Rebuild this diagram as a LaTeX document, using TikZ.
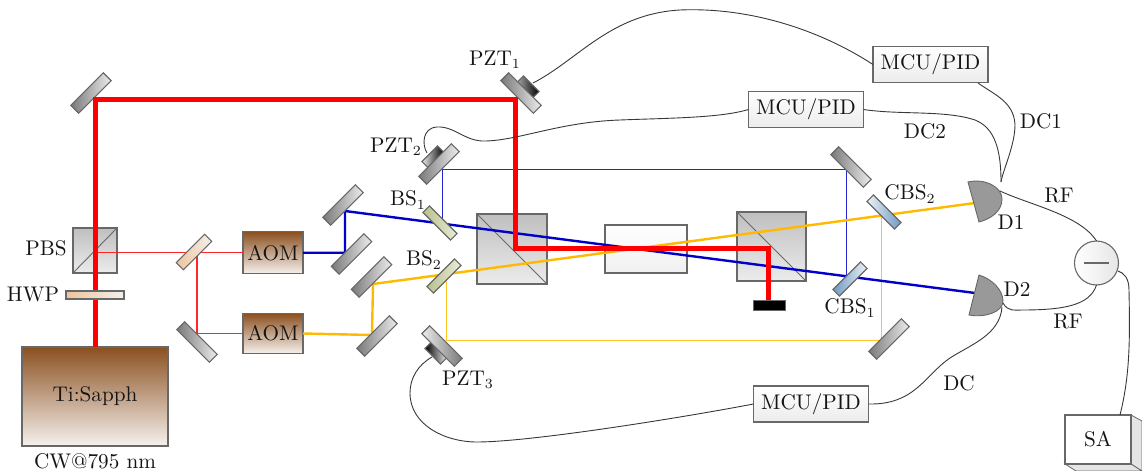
\documentclass[tikz,border=0pt]{standalone}
\usetikzlibrary{calc}
\definecolor{brownT}{HTML}{8B5020}
\definecolor{txt}{HTML}{151515}
\definecolor{edge}{HTML}{686868}
\definecolor{bluebeam}{HTML}{0000C8}
\definecolor{yellowbeam}{HTML}{FFB900}
\definecolor{tanL}{HTML}{F0C49C}
\definecolor{tanR}{HTML}{F2F0EC}
\definecolor{oliveL}{HTML}{B8C08E}
\definecolor{oliveR}{HTML}{E8EBD8}
\definecolor{cbsL}{HTML}{EDF1F5}
\definecolor{cbsR}{HTML}{6C9AC6}
\tikzset{
 every node/.style={text=txt,font=\fontsize{10.6}{12.5}\selectfont},
 optic/.style={draw=edge,line width=0.55pt,inner sep=0pt,outer sep=0pt},
 mirrorbox/.style={optic,minimum width=23pt,minimum height=5.6pt,left color=gray!95!black,right color=gray!15},
 flipmirror/.style={optic,minimum width=23pt,minimum height=5.6pt,left color=gray!15,right color=gray!95!black},
 platebox/.style 2 args={optic,minimum width=19.5pt,minimum height=4.6pt,left color=#1,right color=#2},
 piezo/.style 2 args={optic,minimum width=11pt,minimum height=4.6pt,left color=#1,right color=#2},
 cubebox/.style={optic,top color=gray!50,bottom color=gray!15},
 aombox/.style={optic,top color=brownT,bottom color=brownT!8},
 mcubox/.style={optic,top color=white,bottom color=gray!15,minimum width=57.5pt,minimum height=18pt},
 labeltext/.style={inner sep=0pt},
 wire/.style={draw=txt!85,line width=0.45pt},
 redthick/.style={red,line width=2.5pt,line join=miter},
 redthin/.style={red!85,line width=0.7pt},
 bluethick/.style={bluebeam,line width=1.2pt},
 bluethin/.style={bluebeam!85,line width=0.5pt},
 yellowthick/.style={yellowbeam,line width=1.2pt},
 yellowthin/.style={yellowbeam!85,line width=0.5pt},
}
\begin{document}
\begin{tikzpicture}[x=0.5pt,y=-0.5pt]
\useasboundingbox (0,0) rectangle (1142,471);
% bulk optics under the beams
\node[cubebox,minimum width=22pt,minimum height=22.5pt] (pbs) at (95,250.5) {};
\draw[edge,line width=0.45pt] (pbs.south west) -- (pbs.north east);
\node[cubebox,minimum width=35pt,minimum height=35pt] (cubeA) at (512,249) {};
\draw[edge,line width=0.45pt] (cubeA.north west) -- (cubeA.south east);
\node[cubebox,minimum width=34.5pt,minimum height=34.5pt] (cubeB) at (771.5,246.5) {};
\draw[edge,line width=0.45pt] (cubeB.north west) -- (cubeB.south east);
\node[optic,top color=white,bottom color=gray!12,minimum width=41pt,minimum height=24pt] (crystal) at (646,249) {};
% sources
\node[aombox,minimum width=73pt,minimum height=49.5pt] (laser) at (95,396.5) {Ti:Sapph};
\node[aombox,minimum width=30pt,minimum height=21pt] (aomA) at (273,252.7) {AOM};
\node[aombox,minimum width=30pt,minimum height=20pt] (aomB) at (273,333.5) {AOM};
\node[fill=black,draw=edge,line width=0.4pt,minimum width=16pt,minimum height=5pt,inner sep=0pt] (dump) at (769,305) {};
% beam corners
\coordinate (split) at (197,252.7);
\coordinate (low) at (197,333.5);
\coordinate (pbsc) at (95,252.7);
\coordinate (b1) at (345,252.7);
\coordinate (b2) at (345,211);
\coordinate (b3) at (975,293);
\coordinate (y1) at (372,335);
\coordinate (y2) at (373,284);
\coordinate (y3) at (975,203);
\coordinate (bu1) at (442,222);
\coordinate (bu2) at (442,169);
\coordinate (bu3) at (846,169);
\coordinate (bu4) at (846,277);
\coordinate (yd1) at (446,280);
\coordinate (yd2) at (446,340);
\coordinate (yd3) at (881,340);
\coordinate (yd4) at (881,217);
\coordinate (r1) at (95,99);
\coordinate (r2) at (515,99);
\coordinate (r3) at (515,248);
\coordinate (r4) at (768,248);
% thin and coloured beams
\draw[redthin] (pbsc) -- (aomA.west);
\draw[redthin] (split) -- (low) -- (aomB.west);
\draw[bluethin] (bu1) -- (bu2) -- (bu3) -- (bu4);
\draw[yellowthin] (yd1) -- (yd2) -- (yd3) -- (yd4);
\draw[bluethick] (aomA.east) -- (b1) -- (b2) -- (b3);
\draw[yellowthick] (aomB.east) -- (y1) -- (y2) -- (y3);
% mirrors
\node[mirrorbox,rotate=45] (m0) at (91,93) {};
\node[mirrorbox,rotate=45] (m1) at (343,205) {};
\node[mirrorbox,rotate=45] (m2) at (351.5,254) {};
\node[mirrorbox,rotate=45] (m3) at (371.5,277) {};
\node[mirrorbox,rotate=45] (m4) at (377,336) {};
\node[mirrorbox,rotate=-45] (m5) at (197,342) {};
\node[mirrorbox,rotate=-45] (m6) at (851,167) {};
\node[mirrorbox,rotate=45] (m7) at (889,339) {};
% beam splitters
\node[platebox={tanL}{tanR},rotate=45,minimum width=20pt,minimum height=5pt] (bs0) at (194,252) {};
\node[platebox={oliveL}{oliveR},rotate=-45] (bs1) at (440,223) {};
\node[platebox={oliveL}{oliveR},rotate=45] (bs2) at (444,276) {};
\node[platebox={cbsL}{cbsR},rotate=-45] (cbs2) at (884,212) {};
\node[platebox={cbsR}{cbsL},rotate=45] (cbs1) at (850,279) {};
% piezo mirrors
\node[piezo={gray!70}{black},rotate=-45] (pztA) at (528,87) {};
\node[mirrorbox,rotate=-45] (mA) at (521,93) {};
\node[piezo={gray!15}{black},rotate=45] (pztB) at (433,157) {};
\node[mirrorbox,rotate=45] (mB) at (439,164) {};
\node[piezo={black}{gray!15},rotate=-45] (pztC) at (436,353) {};
\node[flipmirror,rotate=-45] (mC) at (442,346) {};
% strong beam
\draw[redthick] (laser.north) -- (r1) -- (r2) -- (r3) -- (r4) -- (r4 |- dump.north);
% half wave plate over the beam
\node[optic,left color=tanL,right color=tanR,minimum width=29pt,minimum height=4pt] (hwp) at (95,295) {};
% detectors
\draw[draw=edge,fill=gray!80,line width=0.45pt] (968,182) .. controls (985,178) and (1002,187) .. (1002,199) .. controls (1002,212) and (990,219) .. (979,222) -- cycle;
\draw[draw=edge,fill=gray!80,line width=0.45pt] (979,275) .. controls (992,279) and (1003,290) .. (1003,301) .. controls (1003,312) and (985,318) .. (969,315) -- cycle;
\coordinate (d1out) at (1000,191);
\coordinate (d2out) at (1003,303);
\coordinate (d1in) at (1001,182);
\coordinate (d2low) at (1002,307);
% subtractor
\node[circle,optic,left color=white,right color=gray!20,minimum size=22pt] (minus) at (1096.5,263) {};
\draw[edge,line width=1pt] ($(minus.center)+(-12.5,0)$) -- ($(minus.center)+(12.5,0)$);
% spectrum analyser
\fill[gray!20,draw=edge,line width=0.4pt] (1131,415) -- (1142,421) -- (1142,471) -- (1131,464) -- cycle;
\fill[gray!20,draw=edge,line width=0.4pt] (1065,464) -- (1076,471) -- (1142,471) -- (1131,464) -- cycle;
\node[draw=edge,fill=white,line width=0.6pt,minimum width=33pt,minimum height=24.5pt,inner sep=0pt] (sa) at (1098,439.5) {SA};
% controllers
\node[mcubox] (mcuA) at (930.5,64.5) {MCU/PID};
\node[mcubox] (mcuB) at (806,109.5) {MCU/PID};
\node[mcubox] (mcuC) at (811,404) {MCU/PID};
% wire ends on the piezos
\coordinate (wA) at (533,83);
\coordinate (wB) at (427,153);
\coordinate (wC) at (432,357);
\coordinate (mcuAb) at (978,83);
\coordinate (minusr) at (1118,271);
% wires
\draw[wire] (wA) .. controls (578,60) and (610,14) .. (680,10) .. controls (750,7) and (820,30) .. (mcuA.west);
\draw[wire] (wB) .. controls (422,145) and (422,128) .. (437,127) .. controls (455,126) and (465,142) .. (486,141) .. controls (520,140) and (560,122) .. (620,120) .. controls (670,118) and (720,118) .. (mcuB.west);
\draw[wire] (wC) .. controls (418,365) and (410,378) .. (410,393) .. controls (410,425) and (445,442) .. (477,442) .. controls (530,442) and (680,418) .. (mcuC.west);
\draw[wire] (mcuB.east) .. controls (900,115) and (945,110) .. (975,120) .. controls (995,128) and (1001,150) .. (d1in);
\draw[wire] (mcuAb) .. controls (995,95) and (1014,102) .. (1015,125) .. controls (1015,145) and (1003,170) .. (d1in);
\draw[wire] (d1out) .. controls (1030,205) and (1080,215) .. (minus.north);
\draw[wire] (d2out) .. controls (1008,312) and (1015,310) .. (1022,310) .. controls (1065,310) and (1090,305) .. (minus.south);
\draw[wire] (minusr) .. controls (1124,273) and (1129,278) .. (1129,290) .. controls (1130,340) and (1130,375) .. (1120,415);
\draw[wire] (d2low) .. controls (1000,335) and (970,345) .. (950,358) .. controls (925,375) and (915,405) .. (mcuC.east);
% labels
\node[labeltext] (lpzt1) at (495,60) {PZT$_1$};
\node[labeltext] (lpzt2) at (396,147) {PZT$_2$};
\node[labeltext] (lpzt3) at (468,380) {PZT$_3$};
\node[labeltext] (lbs1) at (408,200) {BS$_1$};
\node[labeltext] (lbs2) at (424,260) {BS$_2$};
\node[labeltext] (lpbs) at (46,248) {PBS};
\node[labeltext] (lhwp) at (33,294) {HWP};
\node[labeltext] (lcbs2) at (910,194) {CBS$_2$};
\node[labeltext] (lcbs1) at (850,308) {CBS$_1$};
\node[labeltext] (ld1) at (1011,222) {D1};
\node[labeltext] (ld2) at (1017,289) {D2};
\node[labeltext] (lrf1) at (1059,195) {RF};
\node[labeltext] (lrf2) at (1068,321) {RF};
\node[labeltext] (ldc2) at (925,131) {DC2};
\node[labeltext] (ldc1) at (1041,121) {DC1};
\node[labeltext] (ldc) at (959,383) {DC};
\node[labeltext] (lcw) at (95,461) {CW@795 nm};
\end{tikzpicture}
\end{document}
